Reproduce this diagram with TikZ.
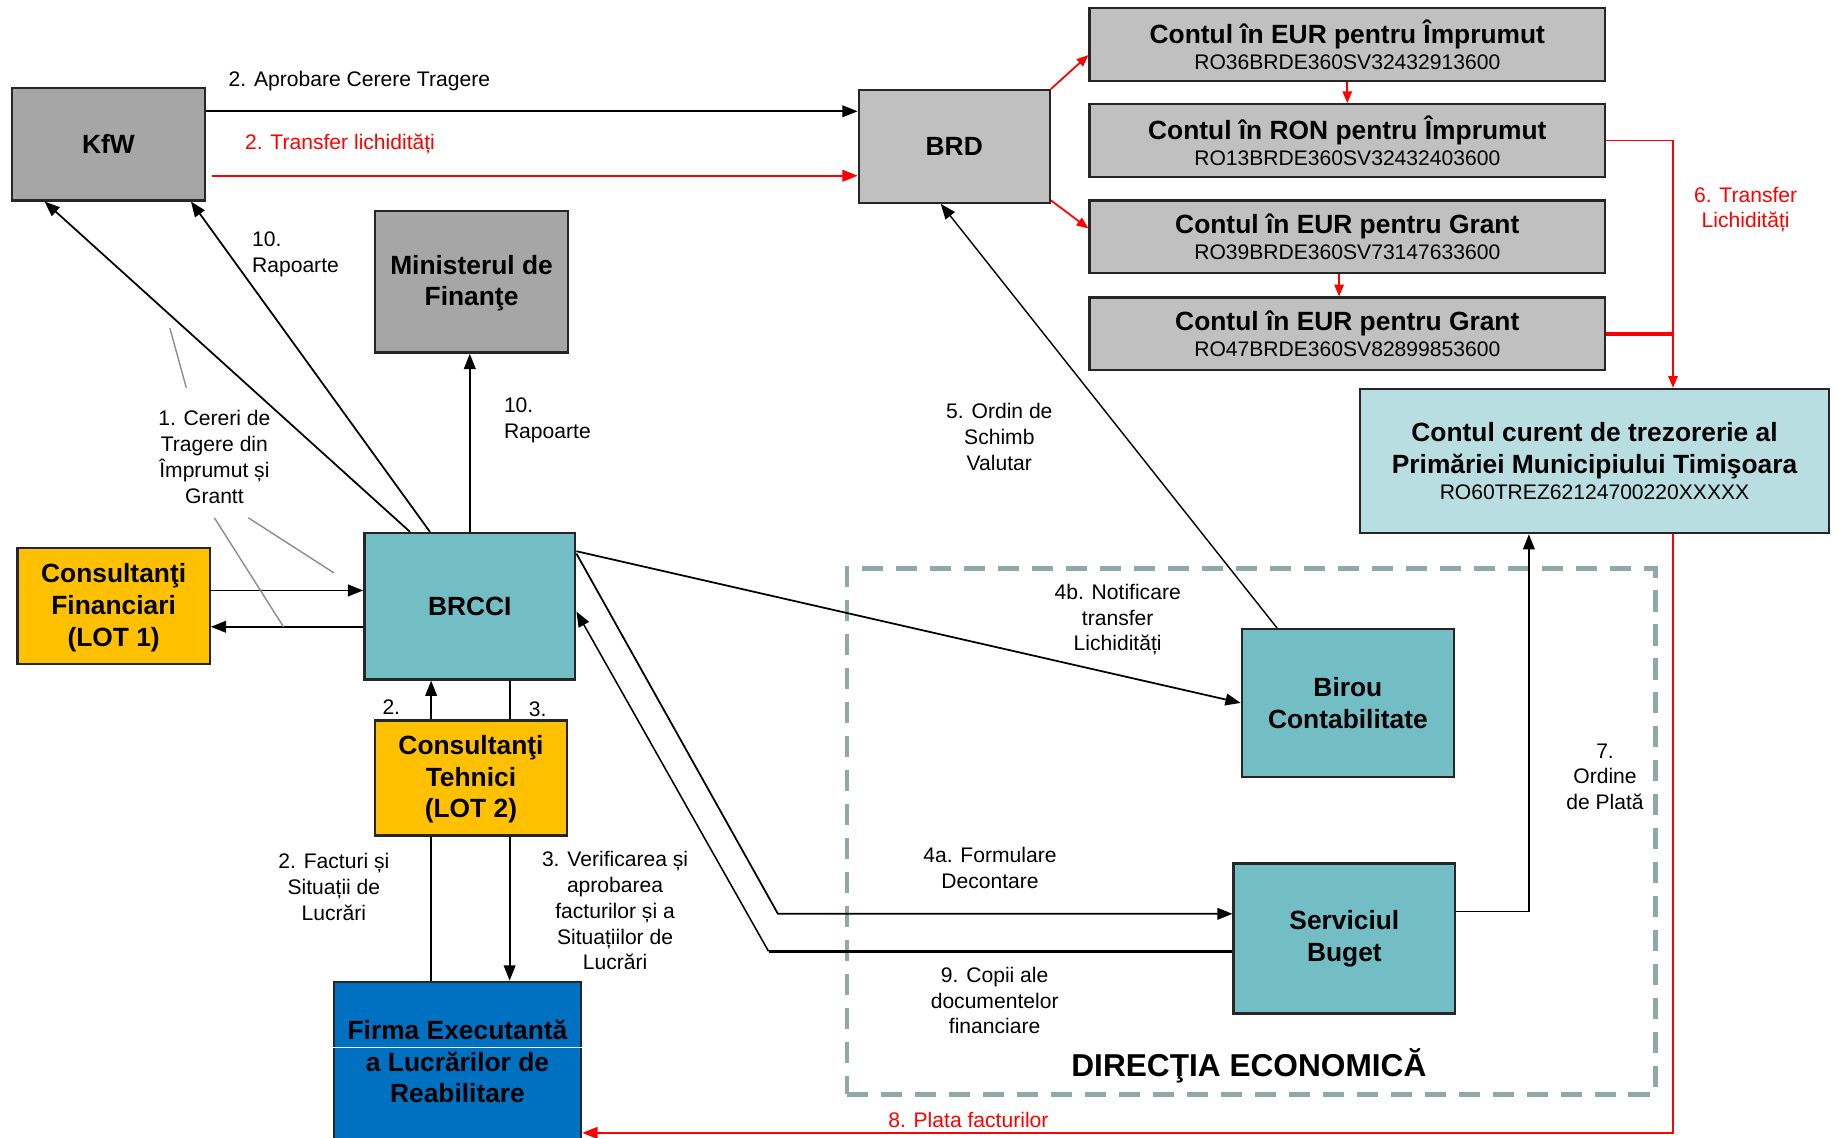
\documentclass[tikz,border=0pt]{standalone}
\usepackage{fontspec}
\setmainfont{Liberation Sans}
\usetikzlibrary{arrows.meta}

\definecolor{darkgraybox}{HTML}{A6A6A6}
\definecolor{graybox}{HTML}{C0C0C0}
\definecolor{tealbox}{HTML}{72BEC4}
\definecolor{lightbox}{HTML}{B9DEE1}
\definecolor{goldbox}{HTML}{FFC000}
\definecolor{bluebox}{HTML}{0070C0}
\definecolor{dashgray}{HTML}{8FA8AA}
\definecolor{callgray}{HTML}{8C8C8C}

\newcommand{\acctno}[1]{{\mdseries\fontsize{18}{22}\selectfont #1}}

\begin{document}
\begin{tikzpicture}[x=1pt,y=-1pt,
   box/.style={draw=black!85, line width=2pt, align=center, inner sep=0pt,
               font=\fontsize{22.5}{27}\selectfont\bfseries},
   acct/.style={box, fill=graybox, minimum width=440pt, minimum height=62pt},
   lbl/.style={align=center, inner sep=0pt, font=\fontsize{18}{22}\selectfont},
   flow/.style={line width=1.5pt, -{Triangle[length=13pt,width=10pt]}},
   redflow/.style={flow, red},
   redsmall/.style={line width=1.5pt, red, -{Triangle[length=10pt,width=8pt]}}]

\useasboundingbox (0,0) rectangle (1568,971);
\clip (0,0) rectangle (1568,971);

\node[draw=dashgray, line width=4pt, dash pattern=on 18pt off 11pt,
      minimum width=690pt, minimum height=449pt] (direc) at (1068,709.5) {};
\node[font=\fontsize{27}{32}\selectfont\bfseries, inner sep=0pt] (direclbl) at (1066,910) {DIRECŢIA ECONOMICĂ};

% boxes
\node[box, fill=darkgraybox, minimum width=165pt, minimum height=96pt] (kfw) at (92.5,123) {KfW};
\node[box, fill=graybox, minimum width=163pt, minimum height=96pt] (brd) at (814.5,125) {BRD};
\node[acct] (acc1) at (1150,38) {Contul în EUR pentru Împrumut\\[-4.5pt]\acctno{RO36BRDE360SV32432913600}};
\node[acct] (acc2) at (1150,120) {Contul în RON pentru Împrumut\\[-4.5pt]\acctno{RO13BRDE360SV32432403600}};
\node[acct] (acc3) at (1150,202) {Contul în EUR pentru Grant\\[-4.5pt]\acctno{RO39BRDE360SV73147633600}};
\node[acct] (acc4) at (1150,285) {Contul în EUR pentru Grant\\[-4.5pt]\acctno{RO47BRDE360SV82899853600}};
\node[box, fill=darkgraybox, minimum width=165pt, minimum height=121pt] (min) at (402.5,240.5) {\strut Ministerul de\\Finanţe};
\node[box, fill=lightbox, minimum width=400pt, minimum height=123pt] (treas) at (1361,393.5)
   {Contul curent de trezorerie al\\Primăriei Municipiului Timişoara\\[-4.5pt]\acctno{RO60TREZ62124700220XXXXX}};
\node[box, fill=tealbox, minimum width=180pt, minimum height=125pt] (brcci) at (401,517.5) {BRCCI};
\node[box, fill=goldbox, minimum width=164pt, minimum height=99pt] (cf) at (97,517.5) {\strut Consultanţi\\Financiari\\(LOT 1)};
\node[box, fill=goldbox, minimum width=164pt, minimum height=98pt] (ct) at (402,664) {\strut Consultanţi\\Tehnici\\(LOT 2)};
\node[box, fill=bluebox, minimum width=211pt, minimum height=136pt] (firma) at (390.5,906) {Firma Executantă\\a Lucrărilor de\\Reabilitare};
\node[box, fill=tealbox, minimum width=181pt, minimum height=126pt] (birou) at (1150.5,600) {Birou\\Contabilitate};
\node[box, fill=tealbox, minimum width=189pt, minimum height=128pt] (serv) at (1147.5,801) {Serviciul\\Buget};

\draw[white, line width=1.5pt] (firma.west |- 0,894) -- (firma.east |- 0,894);

% labels
\node[lbl, anchor=west] (l2a) at (195,69) {2. Aprobare Cerere Tragere};
\node[lbl, anchor=west, red] (l2t) at (209,123) {2. Transfer lichidități};
\node[lbl, anchor=west, align=left] (l10a) at (215,217) {10.\\Rapoarte};
\node[lbl, anchor=west, align=left] (l10b) at (430,359) {10.\\Rapoarte};
\node[lbl] (l1) at (183,390) {1. Cereri de\\Tragere din\\Împrumut și\\Grantt};
\node[lbl] (l5) at (853,373) {5. Ordin de\\Schimb\\Valutar};
\node[lbl, red] (l6) at (1490,179) {6. Transfer\\Lichidități};
\node[lbl] (l4b) at (954,529) {4b. Notificare\\transfer\\Lichidități};
\node[lbl] (l2c) at (334,604) {2.};
\node[lbl] (l3c) at (459,605) {3.};
\node[lbl] (l2f) at (285,757) {2. Facturi și\\Situații de\\Lucrări};
\node[lbl] (l3v) at (525,777.5) {3. Verificarea și\\aprobarea\\facturilor și a\\Situațiilor de\\Lucrări};
\node[lbl] (l4a) at (845,741) {4a. Formulare\\Decontare};
\node[lbl] (l7) at (1370,663) {7.\\Ordine\\de Plată};
\node[lbl] (l9) at (849,854) {9. Copii ale\\documentelor\\financiare};
\node[lbl, anchor=west, red] (l8) at (758,956) {8. Plata facturilor};

\coordinate (trunk) at ([xshift=67pt]treas.north);
\coordinate (bend4a) at (664,780);
\coordinate (bend9) at (656,812);

% connectors
\draw[flow] ([yshift=28pt]kfw.east) -- ([yshift=30pt]brd.west);
\draw[redflow] ([xshift=5pt,yshift=-27pt]kfw.east) -- ([yshift=-25pt]brd.west);
\draw[redsmall] (brd.north east) -- ([yshift=-9pt]acc1.west);
\draw[redsmall] ([yshift=3pt]brd.south east) -- ([yshift=7pt]acc3.west);
\draw[redsmall] (acc1.south) -- (acc2.north);
\draw[redsmall] ([xshift=-7pt]acc3.south) -- ([xshift=-7pt]acc4.north);
\draw[redsmall] (acc2.east) -| (trunk);
\draw[red, line width=3pt] (acc4.east) -- (acc4.east -| trunk);
\draw[redflow] ([xshift=67pt]treas.south) |- ([yshift=-61pt]firma.east);

\draw[flow] (brcci.north) -- (brcci.north |- min.south);
\draw[flow] ([xshift=-51pt]brcci.north) -- ([xshift=-54.5pt]kfw.south);
\draw[flow] ([xshift=-34pt]brcci.north) -- ([xshift=70.5pt]kfw.south);

\draw[flow] ([yshift=13.5pt]cf.east) -- ([yshift=13.5pt]brcci.west);
\draw[flow] ([yshift=-17.5pt]brcci.west) -- ([yshift=-17.5pt]cf.east);

\draw[flow] ([xshift=-34pt]ct.north) -- ([xshift=-34pt]ct.north |- brcci.south);
\draw[line width=1.5pt] ([xshift=33pt]ct.north) -- ([xshift=33pt]ct.north |- brcci.south);
\draw[line width=1.5pt] ([xshift=-34pt]ct.south) -- ([xshift=-34pt]ct.south |- firma.north);
\draw[flow] ([xshift=33pt]ct.south) -- ([xshift=33pt]ct.south |- firma.north);

\draw[flow] ([yshift=47pt]brcci.east) -- (birou.west);
\draw[flow] ([yshift=45pt]brcci.east) -- (bend4a) -- (bend4a -| serv.west);
\draw[line width=2.5pt] (bend9 -| serv.west) -- (bend9);
\draw[flow, line width=1.3pt] (bend9) -- ([yshift=-4.5pt]brcci.east);
\draw[flow, line width=1.2pt] ([xshift=-60.5pt]birou.north) -- ([xshift=-11.5pt]brd.south);
\draw[flow] ([yshift=23pt]serv.east) -| ([xshift=-56pt]treas.south);

\draw[callgray, line width=1.2pt] (145,280) -- (159,331);
\draw[callgray, line width=1.2pt] (212,442) -- (285,489);
\draw[callgray, line width=1.2pt] (183,442) -- (242,535);

\end{tikzpicture}
\end{document}
